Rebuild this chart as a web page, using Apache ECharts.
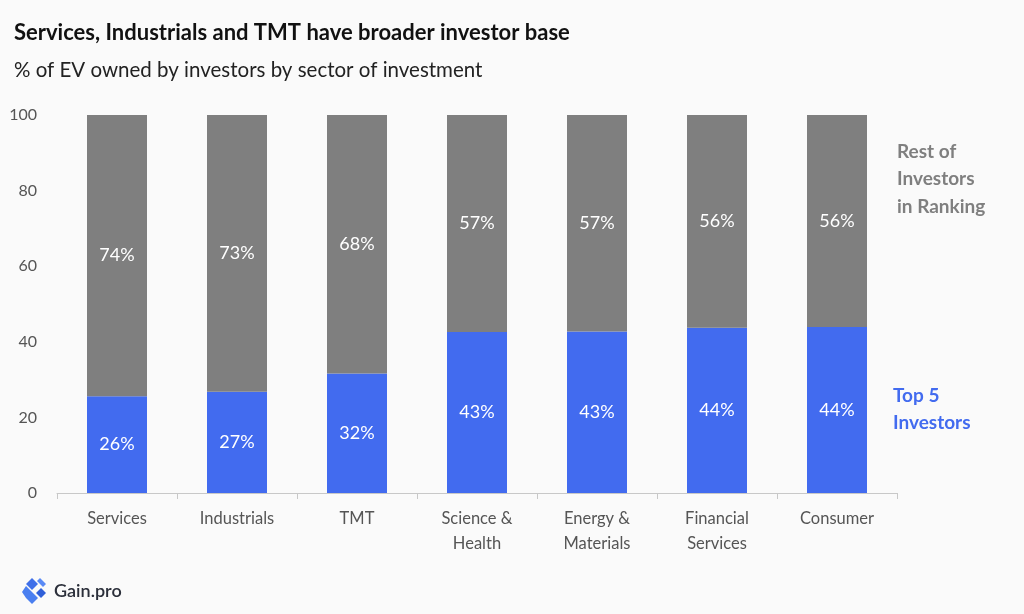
<!DOCTYPE html>
<html><head><meta charset="utf-8">
<script src="https://cdn.jsdelivr.net/npm/echarts@6/dist/echarts.min.js"></script>
<style>html,body{margin:0;padding:0;background:#fafafa}#c{width:1024px;height:614px}</style>
</head><body><div id="c"></div>
<script>
const categories = ["Services", "Industrials", "TMT", "Science &\nHealth", "Energy &\nMaterials", "Financial\nServices", "Consumer"];
const top5 = [25.6, 26.8, 31.6, 42.6, 42.7, 43.7, 43.9];
const rest = top5.map(v => +(100 - v).toFixed(1));
const yTicks = [0, 20, 40, 60, 80, 100];
const FONT = 'Lato, "Noto Sans", sans-serif';
const BLUE = '#426bef', GRAY = '#7f7f7f';

const chart = echarts.init(document.getElementById('c'));
chart.setOption({
  backgroundColor: '#fafafa',
  animation: false,
  title: [
    {text: 'Services, Industrials and TMT have broader investor base', left: 14, top: 22, padding: 0,
     textStyle: {fontFamily: FONT, fontSize: 22, fontWeight: 'bold', color: '#111'}},
    {text: '% of EV owned by investors by sector of investment', left: 14, top: 60, padding: 0,
     textStyle: {fontFamily: FONT, fontSize: 20.5, fontWeight: 'normal', color: '#222'}}
  ],
  grid: {left: 57, right: 127, top: 115, bottom: 121},
  xAxis: {
    type: 'category', data: categories,
    axisLine: {lineStyle: {color: '#c8c8c8'}},
    axisTick: {show: true, length: 6, lineStyle: {color: '#c8c8c8'}},
    axisLabel: {fontFamily: FONT, fontSize: 16.5, color: '#555', margin: 13, lineHeight: 25}
  },
  yAxis: {
    type: 'value', min: yTicks[0], max: yTicks[yTicks.length - 1], interval: 20,
    splitLine: {show: false}, axisLine: {show: false}, axisTick: {show: false},
    axisLabel: {fontFamily: FONT, fontSize: 16, color: '#555', margin: 20}
  },
  series: [
    {name: 'Top 5 Investors', type: 'bar', stack: 's', data: top5, barWidth: 60,
     itemStyle: {color: BLUE},
     label: {show: true, position: 'inside', color: '#fff', fontFamily: FONT, fontSize: 18,
             formatter: p => Math.round(p.value) + '%'}},
    {name: 'Rest of Investors in Ranking', type: 'bar', stack: 's', data: rest, barWidth: 60,
     itemStyle: {color: GRAY},
     label: {show: true, position: 'inside', color: '#fff', fontFamily: FONT, fontSize: 18,
             formatter: p => Math.round(p.value) + '%'}}
  ],
  graphic: [
    {type: 'text', left: 897, top: 138, style: {text: 'Rest of\nInvestors\nin Ranking', fill: GRAY,
      font: 'bold 19px ' + FONT, lineHeight: 27.5}},
    {type: 'text', left: 893, top: 382, style: {text: 'Top 5\nInvestors', fill: BLUE,
      font: 'bold 19px ' + FONT, lineHeight: 27}},
    {type: 'group', left: 22, top: 578, children: [
      {type: 'polygon', shape: {points: [[10,0],[16,6],[10,12],[4,6]]}, style: {fill: '#3f6fe8'}},
      {type: 'polygon', shape: {points: [[4,8],[10,14],[16,20],[10,26],[4,20],[0,14]]}, style: {fill: '#4a7ff0'}},
      {type: 'polygon', shape: {points: [[19,10],[24,15],[19,20],[14,15]]}, style: {fill: '#2f5fd8'}},
      {type: 'polygon', shape: {points: [[18,0],[24,6],[21,9],[15,3]]}, style: {fill: '#5a8af5'}}
    ]},
    {type: 'text', left: 54, top: 582, style: {text: 'Gain.pro', fill: '#2b2f3a', font: '600 18px ' + FONT}}
  ]
});
</script></body></html>
